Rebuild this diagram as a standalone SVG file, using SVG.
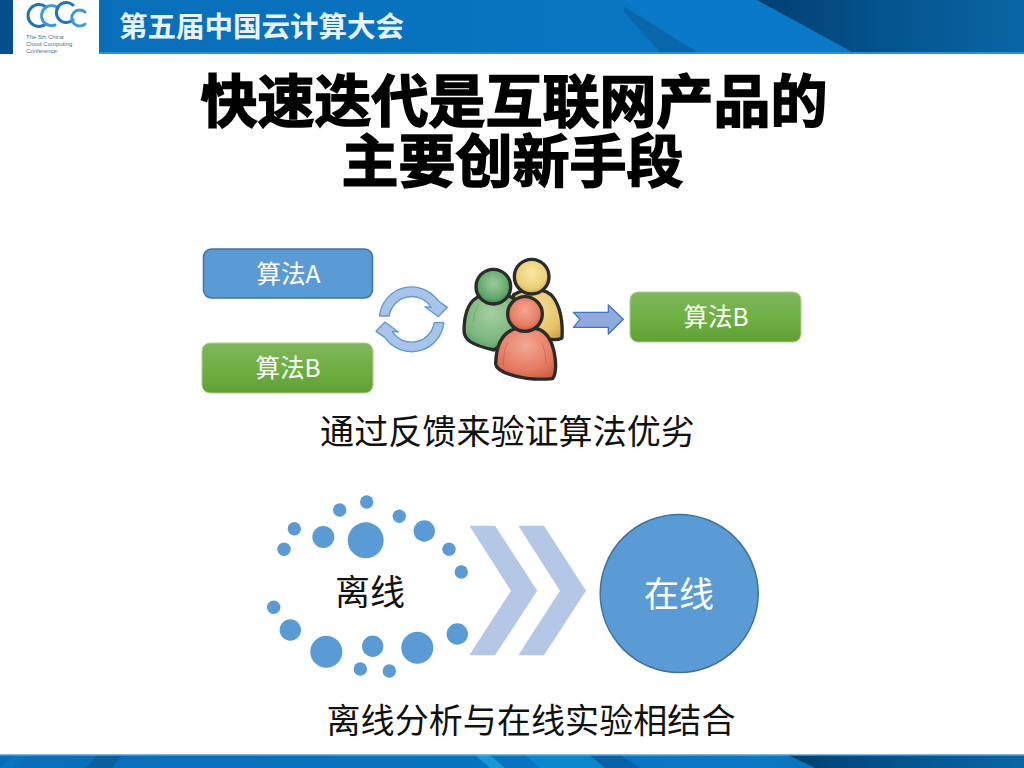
<svg xmlns="http://www.w3.org/2000/svg" width="1024" height="768" viewBox="0 0 1024 768">
<style>
text{font-family:"Noto Sans CJK SC","Noto Sans",sans-serif;text-anchor:middle}
.title{font-size:57px;font-weight:700;fill:#000;stroke:#000;stroke-width:1.6px}
.cap{font-size:34.100px;fill:#111}
.nt{font-size:24.500px;fill:#fff}
.dot{fill:#5b9bd5}
.chev{fill:#b4c7e7}
.body{stroke:#2b2b2b;stroke-width:10;stroke-linejoin:round}
.fold{fill:none;stroke-opacity:.35;stroke-width:2.5}
.cyc{fill:#a9c4e8;stroke:#5b9bd5;stroke-width:4;stroke-linejoin:round}
.logo{fill:none;stroke-width:3;stroke-linecap:round}
.lt{font-size:6px;fill:#4f7396;text-anchor:start;font-family:"Liberation Sans",sans-serif}
</style>
<defs>
<linearGradient id="bar" x1="0" x2="1" y1="0" y2="0"><stop offset="0" stop-color="#0a6db7"/><stop offset=".5" stop-color="#0674c0"/><stop offset=".74" stop-color="#0a78c4"/><stop offset="1" stop-color="#0b65a8"/></linearGradient>
<linearGradient id="dark" x1="0" x2="1" y1="0" y2="0"><stop offset="0" stop-color="#023f70"/><stop offset=".5" stop-color="#04558f"/><stop offset="1" stop-color="#0a66a5"/></linearGradient>
<linearGradient id="green" x1="0" x2="0" y1="0" y2="1"><stop offset="0" stop-color="#7fb75e"/><stop offset=".5" stop-color="#6fb043"/><stop offset="1" stop-color="#60a035"/></linearGradient>
<radialGradient id="gh" cx=".5" cy=".4" r=".6"><stop offset="0" stop-color="#9ecb9c"/><stop offset=".7" stop-color="#63a96c"/><stop offset="1" stop-color="#3b8a50"/></radialGradient>
<radialGradient id="gb" cx=".5" cy=".35" r=".7"><stop offset="0" stop-color="#a5cf9f"/><stop offset=".7" stop-color="#7cb67e"/><stop offset="1" stop-color="#4f9a5e"/></radialGradient>
<radialGradient id="yh" cx=".5" cy=".4" r=".6"><stop offset="0" stop-color="#f8e7a5"/><stop offset=".7" stop-color="#ecd07a"/><stop offset="1" stop-color="#cfa84f"/></radialGradient>
<radialGradient id="yb" cx=".5" cy=".35" r=".7"><stop offset="0" stop-color="#f3dd92"/><stop offset=".7" stop-color="#e8c56b"/><stop offset="1" stop-color="#d1a54c"/></radialGradient>
<radialGradient id="rh" cx=".5" cy=".4" r=".6"><stop offset="0" stop-color="#f4a793"/><stop offset=".7" stop-color="#e67e64"/><stop offset="1" stop-color="#c95a3e"/></radialGradient>
<radialGradient id="rb" cx=".5" cy=".35" r=".7"><stop offset="0" stop-color="#f3a896"/><stop offset=".7" stop-color="#e5795f"/><stop offset="1" stop-color="#cd5f42"/></radialGradient>
</defs>
<rect width="1024" height="768" fill="#fff"/>

<g id="header">
<rect width="1024" height="54" fill="url(#bar)"/>
<polygon points="624,0 757,0 854,53 690,53" fill="#0a7ac8"/>
<polygon points="624,7 699,53 661,53 624,12" fill="#0a66aa"/>
<polygon points="757,0 1024,0 1024,53 854,53" fill="url(#dark)"/>
<rect y="52" width="1024" height="2" fill="#2f8fd0"/>
<rect width="13" height="54" fill="#044f8c"/>
<rect x="13" width="86" height="54" fill="#fff"/>
<g id="logo">
<path class="logo" stroke="#1f74b8" d="M46 7A11 11 0 1 0 46 24"/>
<path class="logo" stroke="#3f9bd6" d="M58 8A10 10 0 1 0 55 25"/>
<path class="logo" stroke="#1f74b8" d="M73 5A10 10 0 1 0 73 20"/>
<path class="logo" stroke="#3f9bd6" d="M85 12A8 8 0 1 0 85 24"/>
<text class="lt" x="26" y="39">The 5th China</text>
<text class="lt" x="26" y="46">Cloud Computing</text>
<text class="lt" x="26" y="53">Conference</text>
</g>
<text x="261.500" y="37" font-size="28.500" font-weight="700" fill="#e8f2fa">第五届中国云计算大会</text>
</g>

<g id="footer">
<rect y="755" width="1024" height="13" fill="url(#bar)"/>
<polygon points="0,768 15,755 28,755 12,768" fill="#0a7ac8" opacity=".6"/>
<polygon points="85,768 98,755 122,755 112,768" fill="#0a5f9f"/>
<polygon points="475,755 490,755 505,768 490,768" fill="#1a97d5"/>
<polygon points="525,755 590,755 610,768 540,768" fill="#0a86cc"/>
<polygon points="590,755 620,755 640,768 605,768" fill="#0a62a6"/>
<polygon points="788,755 1024,755 1024,768 815,768" fill="url(#dark)"/>
<rect y="754" width="1024" height="1.500" fill="#7fb6dc"/>
</g>

<g id="title">
<text class="title" x="514" y="122">快速迭代是互联网产品的</text>
<text class="title" x="512.500" y="182">主要创新手段</text>
</g>

<g id="algo-a"><rect x="203.500" y="249" width="169" height="49" rx="8" fill="#5b9bd5" stroke="#41719c" stroke-width="1.500"/><text class="nt" x="288.500" y="283">算法A</text></g>
<g id="algo-b"><rect x="202" y="343" width="171" height="50" rx="8" fill="url(#green)" stroke="#a9d18e" stroke-width="1"/><text class="nt" x="288" y="377">算法B</text></g>
<g id="algo-b-result"><rect x="630" y="292" width="171" height="50" rx="8" fill="url(#green)" stroke="#a9d18e" stroke-width="1"/><text class="nt" x="716" y="326">算法B</text></g>

<g id="cycle" transform="translate(370 250) scale(.33333)">
<path class="cyc" d="M28.500 198A97 97 0 0 1 205 153L232 172L205 200L165 170L183 172A68 68 0 0 0 57.700 198Z"/>
<path class="cyc" transform="rotate(180 125 208)" d="M28.500 198A97 97 0 0 1 205 153L232 172L205 200L165 170L183 172A68 68 0 0 0 57.700 198Z"/>
</g>

<g id="users" transform="translate(370 250) scale(.33333)">
<g id="user-yellow">
<path class="body" fill="url(#yb)" d="M430 135C470 110 530 112 552 145C575 180 578 230 576 264C550 278 500 262 440 232Z"/>
<circle class="body" cx="485" cy="80" r="52" fill="url(#yh)"/>
</g>
<g id="user-green">
<path class="body" fill="url(#gb)" d="M330 138C298 150 283 185 282 240C282 268 300 284 372 300L445 250L438 150C410 128 360 126 330 138Z"/>
<circle class="body" cx="370" cy="110" r="52" fill="url(#gh)"/>
<path class="fold" stroke="#2f7a44" d="M310 215C312 190 318 170 328 162"/>
</g>
<g id="user-red">
<path class="body" fill="url(#rb)" d="M420 243C393 258 378 295 377 342C380 368 460 394 548 386C557 372 559 345 554 315C547 273 532 248 507 238C480 228 440 230 420 243Z"/>
<circle class="body" cx="465" cy="192" r="52" fill="url(#rh)"/>
<path class="fold" stroke="#8a3b26" d="M400 345C400 315 405 290 415 278"/>
<path class="fold" stroke="#8a3b26" d="M528 345C528 315 522 290 515 278"/>
</g>
</g>

<g id="connectors">
<polygon transform="translate(370 250) scale(.33333)" points="610,187 715,187 715,165 760,208 715,252 715,232 610,232 630,208" fill="#8faadc" stroke="#4472c4" stroke-width="4" stroke-linejoin="round"/>
<polygon class="chev" points="469.300,525.700 495,525.700 537.300,590.700 495,655.300 469.300,655.300 511,590.700"/>
<polygon class="chev" points="518.300,525.700 544,525.700 586,590.700 544,655.300 518.300,655.300 560,590.700"/>
</g>

<text class="cap" x="507.500" y="444">通过反馈来验证算法优劣</text>

<g id="offline">
<circle class="dot" cx="365.700" cy="540.300" r="18"/>
<circle class="dot" cx="323.300" cy="537" r="11"/>
<circle class="dot" cx="339.700" cy="510" r="6.700"/>
<circle class="dot" cx="366.700" cy="502" r="6.700"/>
<circle class="dot" cx="399.300" cy="516.300" r="6.700"/>
<circle class="dot" cx="424.300" cy="531" r="10.700"/>
<circle class="dot" cx="449" cy="549.300" r="6.700"/>
<circle class="dot" cx="461.300" cy="572" r="6.700"/>
<circle class="dot" cx="294.300" cy="528.700" r="6.700"/>
<circle class="dot" cx="284" cy="549.300" r="6.700"/>
<circle class="dot" cx="273.700" cy="607.300" r="6.700"/>
<circle class="dot" cx="290.300" cy="630" r="10.700"/>
<circle class="dot" cx="326.300" cy="651.700" r="16"/>
<circle class="dot" cx="372.700" cy="646.300" r="10.700"/>
<circle class="dot" cx="360.300" cy="669" r="6.700"/>
<circle class="dot" cx="389.300" cy="671" r="6.700"/>
<circle class="dot" cx="417.300" cy="647.700" r="16"/>
<circle class="dot" cx="457.300" cy="634" r="10.700"/>
<text class="cap" x="370" y="605" style="font-size:35px">离线</text>
</g>

<g id="online">
<circle cx="679.200" cy="593.500" r="79" fill="#5b9bd5" stroke="#41719c" stroke-width="1.500"/>
<text class="cap" x="679" y="607" style="fill:#fff;font-size:35px">在线</text>
</g>

<text class="cap" x="531" y="733">离线分析与在线实验相结合</text>
</svg>
